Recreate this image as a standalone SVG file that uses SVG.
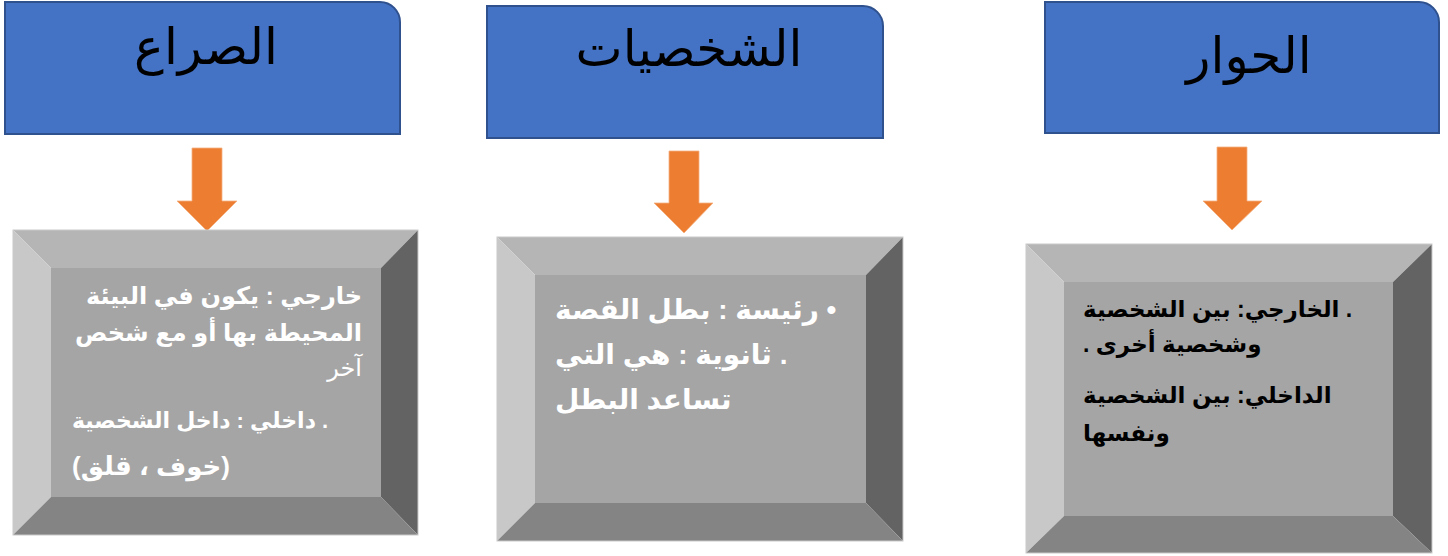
<svg xmlns="http://www.w3.org/2000/svg" width="1448" height="556" viewBox="0 0 1448 556">
<style>
.hdr{fill:#4472C4;stroke:#2F528F;stroke-width:2}
.ttl{font-family:"Liberation Sans","DejaVu Sans",sans-serif;font-size:50px;fill:#000;text-anchor:middle}
.arr{fill:#ED7D31;stroke:#F4B183;stroke-width:0.8}
.bt{fill:#B5B5B5}.bl{fill:#C8C8C8}.br{fill:#636363}.bb{fill:#848484}.bf{fill:#A5A5A5}
.bo{fill:none;stroke:#C9C9C9;stroke-width:1}
.tw{font-family:"Liberation Sans","DejaVu Sans",sans-serif;font-weight:bold;fill:#fff}
.tk{font-family:"Liberation Sans","DejaVu Sans",sans-serif;font-weight:bold;fill:#000}
</style>
<g id="title-conflict">
<path class="hdr" d="M5,2 H380 A20,20 0 0 1 400,22 V134 H5 Z"/>
<text class="ttl" x="206" y="64">الصراع</text>
</g>
<g id="title-characters">
<path class="hdr" d="M487,6 H863 A20,20 0 0 1 883,26 V138 H487 Z"/>
<text class="ttl" x="689" y="66">الشخصيات</text>
</g>
<g id="title-dialogue">
<path class="hdr" d="M1045,2 H1419 A20,20 0 0 1 1439,22 V133 H1045 Z"/>
<text class="ttl" x="1249" y="73">الحوار</text>
</g>
<g id="connectors">
<path class="arr" d="M192,148 H222 V201 H237 L207,231 L177,201 H192 Z"/>
<path class="arr" d="M669,151 H699 V203 H713 L684,233 L654,203 H669 Z"/>
<path class="arr" d="M1217,147 H1247 V201 H1262 L1232,230 L1203,201 H1217 Z"/>
</g>
<g id="box-conflict">
<polygon class="bt" points="13,230 418,230 381,268 51,268"/>
<polygon class="bl" points="13,230 51,268 51,497 13,535"/>
<polygon class="br" points="418,230 418,535 381,497 381,268"/>
<polygon class="bb" points="13,535 51,497 381,497 418,535"/>
<rect class="bf" x="51" y="268" width="330" height="229"/>
<rect class="bo" x="13" y="230" width="405" height="305"/>
<text class="tw" font-size="24" x="362" y="304" text-anchor="end">خارجي : يكون في البيئة</text>
<text class="tw" font-size="24" x="362" y="341" text-anchor="end">المحيطة بها أو مع شخص</text>
<text class="tw" font-size="24" style="font-weight:normal" x="362" y="376" text-anchor="end">آخر</text>
<text class="tw" font-size="22" x="72" y="428">داخلي : داخل الشخصية .</text>
<text class="tw" font-size="26" x="72" y="475">(خوف ، قلق)</text>
</g>
<g id="box-characters">
<polygon class="bt" points="497,237 903,237 866,275 535,275"/>
<polygon class="bl" points="497,237 535,275 535,503 497,541"/>
<polygon class="br" points="903,237 903,541 866,503 866,275"/>
<polygon class="bb" points="497,541 535,503 866,503 903,541"/>
<rect class="bf" x="535" y="275" width="331" height="228"/>
<rect class="bo" x="497" y="237" width="406" height="304"/>
<text class="tw" font-size="28" x="555" y="319">رئيسة : بطل القصة •</text>
<text class="tw" font-size="28" x="555" y="364">ثانوية : هي التي .</text>
<text class="tw" font-size="28" x="555" y="409">تساعد البطل</text>
</g>
<g id="box-dialogue">
<polygon class="bt" points="1026,244 1432,244 1393,282 1064,282"/>
<polygon class="bl" points="1026,244 1064,282 1064,516 1026,553"/>
<polygon class="br" points="1432,244 1432,553 1393,516 1393,282"/>
<polygon class="bb" points="1026,553 1064,516 1393,516 1432,553"/>
<rect class="bf" x="1064" y="282" width="329" height="234"/>
<rect class="bo" x="1026" y="244" width="406" height="309"/>
<text class="tk" font-size="23" x="1083" y="317">الخارجي: بين الشخصية .</text>
<text class="tk" font-size="23" x="1083" y="352">. وشخصية أخرى</text>
<text class="tk" font-size="23" x="1083" y="403">الداخلي: بين الشخصية</text>
<text class="tk" font-size="23" x="1083" y="441">ونفسها</text>
</g>
</svg>
